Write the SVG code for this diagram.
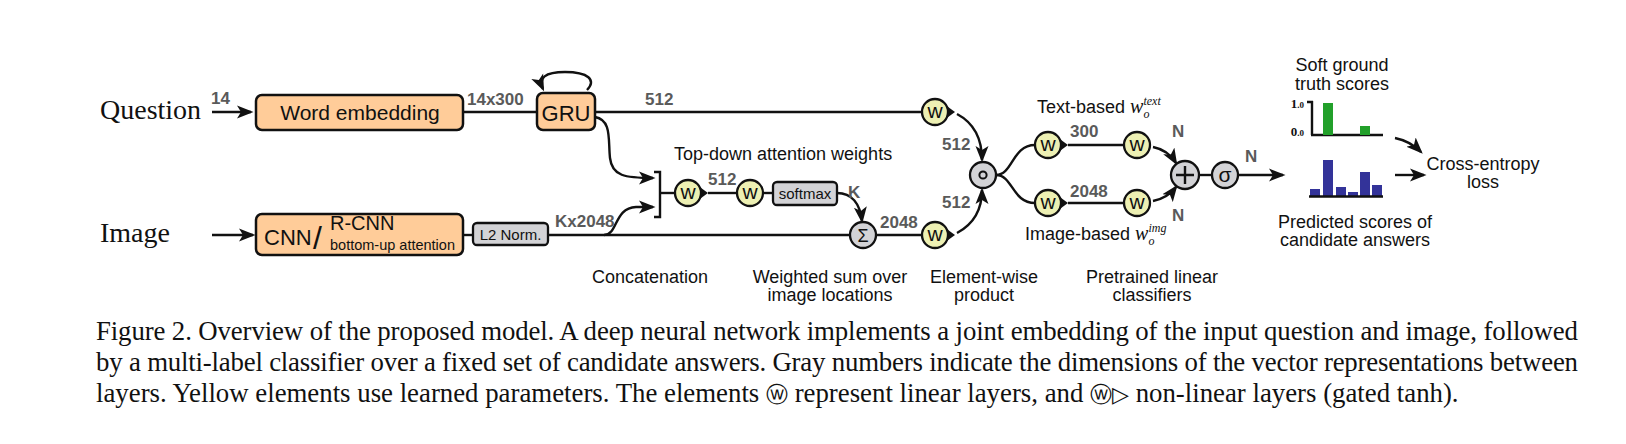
<svg xmlns="http://www.w3.org/2000/svg" xmlns:xlink="http://www.w3.org/1999/xlink" width="1626" height="444" viewBox="0 0 1626 444">
<style>
.ln{fill:none;stroke:#111;stroke-width:2.4}
.arr{fill:none;stroke:#111;stroke-width:2.4;marker-end:url(#ah)}
.box{fill:#FFCC99;stroke:#111;stroke-width:2.5}
.gbox{fill:#D3D3D6;stroke:#111;stroke-width:2.3}
.wn{fill:#EDF0B3;stroke:#111;stroke-width:2.3}
.op{fill:#D3D3D6;stroke:#111;stroke-width:2.3}
.t{font-family:"Liberation Sans",Arial,sans-serif;fill:#111}
.num{font-family:"Liberation Sans",Arial,sans-serif;fill:#5a5a5a;font-size:17px;font-weight:bold}
.lab{font-family:"Liberation Sans",Arial,sans-serif;fill:#111;font-size:18px;text-anchor:middle}
.ser{font-family:"Liberation Serif","Times New Roman",serif;fill:#111}
.wt{font-family:"Liberation Sans",Arial,sans-serif;font-size:21px;fill:#111;text-anchor:middle}
</style>
<defs>
<marker id="ah" markerUnits="userSpaceOnUse" markerWidth="18" markerHeight="14" viewBox="0 0 18 14" refX="14" refY="7" orient="auto">
<path d="M0,0.5 L16.5,7 L0,13.5 L4,7 Z" fill="#111"/>
</marker>
<g id="wlin"><circle r="13" class="wn"/><text y="6" class="wt">w</text></g>
<g id="wgat"><path d="M9,-8 L20,0 L9,8 Z" fill="#111"/><circle r="13" class="wn"/><text y="6" class="wt">w</text></g>
</defs>
<rect width="1626" height="444" fill="#fff"/>

<g id="connectors">
<path class="arr" d="M212 112 L251 112"/>
<path class="ln" d="M463 112 L537 112"/>
<path class="arr" d="M587 90 C597 80 588 72 565 72 C545 72 538 78 543 89"/>
<path class="ln" d="M595 112 L922 112"/>
<path class="arr" d="M595 117 C612 120 608 140 610 158 C612 176 625 178 653 178"/>
<path class="arr" d="M212 235 L253 235"/>
<path class="ln" d="M463 235 L473 235"/>
<path class="ln" d="M548 235 L850 235"/>
<path class="arr" d="M604 235 C618 235 614 208 636 207 L653 207"/>
<path class="ln" d="M654 172 L660 172 L660 217 L654 217"/>
<path class="ln" d="M660 193 L675 193"/>
<path class="ln" d="M708 193 L737 193"/>
<path class="ln" d="M763 193 L773 193"/>
<path class="arr" d="M837 193 C852 193 860 204 862 221"/>
<path class="ln" d="M876 235 L922 235"/>
<path class="arr" d="M957 114 C972 122 982 136 982 160"/>
<path class="arr" d="M957 233 C972 225 982 212 982 190"/>
<path class="ln" d="M996 175 C1013 175 1012 145 1035 145"/>
<path class="ln" d="M996 175 C1013 175 1012 203 1035 203"/>
<path class="ln" d="M1068 145 L1124 145"/>
<path class="ln" d="M1068 203 L1124 203"/>
<path class="arr" d="M1153 147 C1163 149 1170 153 1176 163"/>
<path class="arr" d="M1153 201 C1163 199 1170 195 1176 187"/>
<path class="ln" d="M1199 175 L1212 175"/>
<path class="arr" d="M1238 175 L1283 175"/>
<path class="arr" d="M1395 138 C1405 140 1413 144 1421 152"/>
<path class="arr" d="M1395 175 L1424 175"/>
</g>

<g id="question"><text class="ser" x="100" y="119" font-size="28">Question</text></g>
<g id="image"><text class="ser" x="100" y="242" font-size="28">Image</text></g>

<g id="labels-dims">
<text class="num" x="211" y="104">14</text>
<text class="num" x="467" y="105">14x300</text>
<text class="num" x="645" y="105">512</text>
<text class="num" x="555" y="227">Kx2048</text>
<text class="num" x="708" y="185">512</text>
<text class="num" x="848" y="198">K</text>
<text class="num" x="880" y="228">2048</text>
<text class="num" x="942" y="150">512</text>
<text class="num" x="942" y="208">512</text>
<text class="num" x="1070" y="137">300</text>
<text class="num" x="1070" y="197">2048</text>
<text class="num" x="1172" y="137">N</text>
<text class="num" x="1172" y="221">N</text>
<text class="num" x="1245" y="162">N</text>
</g>

<g id="word-embedding">
<rect class="box" x="256" y="95" width="207" height="35" rx="6"/>
<text class="t" x="360" y="120" font-size="21" text-anchor="middle">Word embedding</text>
</g>
<g id="gru">
<rect class="box" x="537" y="93" width="58" height="37" rx="6"/>
<text class="t" x="566" y="121" font-size="22" text-anchor="middle">GRU</text>
</g>
<g id="cnn">
<rect class="box" x="256" y="214" width="207" height="41" rx="6"/>
<text class="t" x="264" y="245" font-size="22">CNN</text>
<text class="t" x="313" y="249" font-size="32">/</text>
<text class="t" x="330" y="230" font-size="20">R-CNN</text>
<text class="t" x="330" y="250" font-size="14.5">bottom-up attention</text>
</g>
<g id="l2norm">
<rect class="gbox" x="473" y="223" width="75" height="22" rx="4"/>
<text class="t" x="510.5" y="240" font-size="15" text-anchor="middle">L2 Norm.</text>
</g>

<g id="attention">
<text class="t" x="674" y="160" font-size="18">Top-down attention weights</text>
</g>
<g id="w-att1"><use xlink:href="#wgat" x="688" y="193"/></g>
<g id="w-att2"><use xlink:href="#wlin" x="750" y="193"/></g>
<g id="softmax">
<rect class="gbox" x="773" y="182" width="64" height="23" rx="4"/>
<text class="t" x="805" y="199" font-size="15" text-anchor="middle">softmax</text>
</g>
<g id="sum">
<circle class="op" cx="863" cy="235" r="13"/>
<text class="t" x="863" y="241.5" font-size="18" text-anchor="middle">Σ</text>
</g>
<g id="w-q"><use xlink:href="#wgat" x="935" y="112"/></g>
<g id="w-v"><use xlink:href="#wgat" x="935" y="235"/></g>
<g id="product">
<circle class="op" cx="983" cy="175" r="13"/>
<circle cx="983" cy="175" r="3.6" fill="none" stroke="#111" stroke-width="2"/>
</g>
<g id="w-text1"><use xlink:href="#wgat" x="1048" y="145"/></g>
<g id="w-text2"><use xlink:href="#wlin" x="1137" y="145"/></g>
<g id="w-img1"><use xlink:href="#wgat" x="1048" y="203"/></g>
<g id="w-img2"><use xlink:href="#wlin" x="1137" y="203"/></g>
<g id="text-based">
<text class="t" x="1037" y="113" font-size="18">Text-based <tspan class="ser" font-style="italic" font-size="20">w</tspan><tspan class="ser" font-style="italic" font-size="12" dy="5">o</tspan><tspan class="ser" font-style="italic" font-size="12" dx="-6" dy="-13">text</tspan></text>
</g>
<g id="image-based">
<text class="t" x="1025" y="240" font-size="18">Image-based <tspan class="ser" font-style="italic" font-size="20">w</tspan><tspan class="ser" font-style="italic" font-size="12" dy="5">o</tspan><tspan class="ser" font-style="italic" font-size="12" dx="-6" dy="-13">img</tspan></text>
</g>
<g id="plus">
<circle class="op" cx="1185" cy="175" r="14"/>
<path d="M1176 175 L1194 175 M1185 166 L1185 184" stroke="#111" stroke-width="2.4"/>
</g>
<g id="sigma">
<circle class="op" cx="1225" cy="175" r="13"/>
<text class="t" x="1225" y="182" font-size="21" text-anchor="middle">σ</text>
</g>

<g id="ground-truth">
<text class="lab" x="1342" y="71">Soft ground</text>
<text class="lab" x="1342" y="90">truth scores</text>
<path class="ln" d="M1307 102 L1313 102 M1312 101 L1312 135 M1311 135 L1383 135" stroke-width="1.8"/>
<text class="ser" x="1304" y="108" font-size="13" font-weight="bold" text-anchor="end">1<tspan font-size="9">.0</tspan></text>
<text class="ser" x="1304" y="136" font-size="13" font-weight="bold" text-anchor="end">0<tspan font-size="9">.0</tspan></text>
<rect x="1323" y="103" width="10" height="32" fill="#22A02A"/>
<rect x="1360" y="126" width="10" height="9" fill="#22A02A"/>
</g>
<g id="predicted">
<rect x="1310" y="189" width="10" height="7" fill="#333399"/>
<rect x="1323" y="160" width="10" height="36" fill="#333399"/>
<rect x="1336" y="187" width="10" height="9" fill="#333399"/>
<rect x="1348" y="192" width="10" height="4" fill="#333399"/>
<rect x="1360" y="172" width="10" height="24" fill="#333399"/>
<rect x="1372" y="185" width="10" height="11" fill="#333399"/>
<path class="ln" d="M1309 196.5 L1383 196.5" stroke-width="1.6"/>
<text class="lab" x="1355" y="228">Predicted scores of</text>
<text class="lab" x="1355" y="246">candidate answers</text>
</g>
<g id="cross-entropy">
<text class="lab" x="1483" y="170">Cross-entropy</text>
<text class="lab" x="1483" y="188">loss</text>
</g>

<g id="bottom-labels">
<text class="lab" x="650" y="283">Concatenation</text>
<text class="lab" x="830" y="283">Weighted sum over</text>
<text class="lab" x="830" y="301">image locations</text>
<text class="lab" x="984" y="283">Element-wise</text>
<text class="lab" x="984" y="301">product</text>
<text class="lab" x="1152" y="283">Pretrained linear</text>
<text class="lab" x="1152" y="301">classifiers</text>
</g>

<g id="caption" class="ser" font-size="26.8">
<text x="96" y="340" textLength="1482" lengthAdjust="spacing">Figure 2. Overview of the proposed model.  A deep neural network implements a joint embedding of the input question and image, followed</text>
<text x="96" y="371" textLength="1482" lengthAdjust="spacing">by a multi-label classifier over a fixed set of candidate answers.  Gray numbers indicate the dimensions of the vector representations between</text>
<text x="96" y="402">layers.  Yellow elements use learned parameters.  The elements <tspan font-family="'DejaVu Sans',sans-serif" font-size="22">ⓦ</tspan> represent linear layers, and <tspan font-family="'DejaVu Sans',sans-serif" font-size="22">ⓦ▷</tspan> non-linear layers (gated tanh).</text>
</g>
</svg>
